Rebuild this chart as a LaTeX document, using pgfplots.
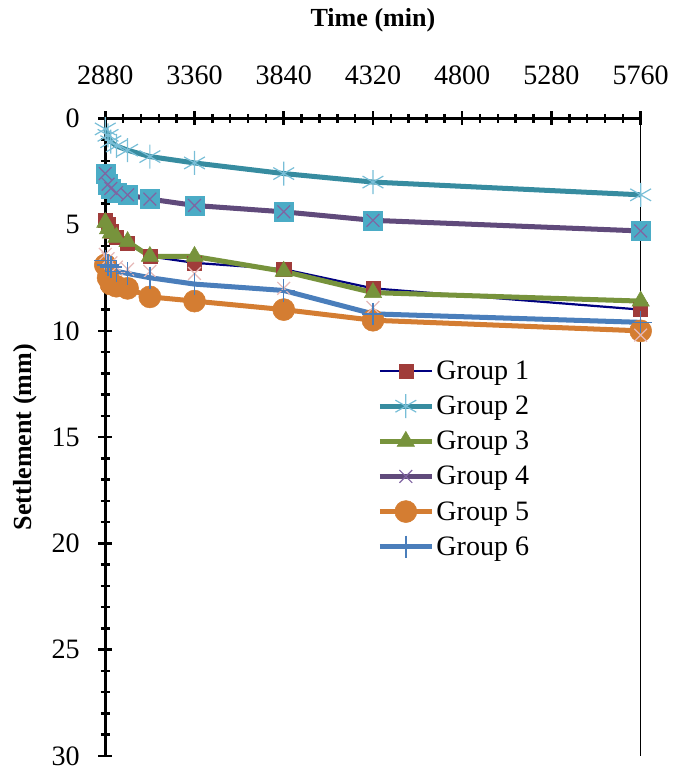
\documentclass[border=0pt]{standalone}
\usepackage{pgfplots}
\usepackage{pgfplotstable}
\pgfplotsset{compat=1.18}
\usepackage{fontspec}
\setmainfont{Liberation Serif}
\definecolor{g1line}{RGB}{0,0,128}
\definecolor{g1mark}{RGB}{160,60,58}
\definecolor{g2line}{RGB}{55,140,160}
\definecolor{g2mark}{RGB}{120,190,215}
\definecolor{g3}{RGB}{119,147,60}
\definecolor{g4line}{RGB}{96,74,123}
\definecolor{g4mark}{RGB}{128,100,162}
\definecolor{g5}{RGB}{212,125,50}
\definecolor{g6}{RGB}{74,126,187}
\definecolor{cyansq}{RGB}{75,172,198}
\definecolor{pinkx}{RGB}{230,185,184}
\pgfplotstableread{
t G1 G2 G3 G4 G5 G6 P
2880 4.8 0.5 4.9 2.6 6.9 6.7 6.4
2895 5.0 0.8 5.2 3.1 7.5 6.9 6.6
2910 5.3 1.1 5.4 3.3 7.8 7.0 6.8
2940 5.6 1.3 5.6 3.5 7.9 7.2 7.0
3000 5.9 1.5 5.8 3.6 8.0 7.3 7.1
3120 6.5 1.8 6.5 3.8 8.4 7.5 7.2
3360 6.8 2.1 6.5 4.1 8.6 7.8 7.3
3840 7.1 2.6 7.2 4.4 9.0 8.1 8.0
4320 8.0 3.0 8.2 4.8 9.5 9.2 8.9
5760 9.0 3.6 8.6 5.3 10.0 9.6 10.2
}\data
\begin{document}
\begin{tikzpicture}
\begin{axis}[
  name=ax,
  scale only axis, width=534pt, height=636pt,
  xmin=2880, xmax=5760, ymin=0, ymax=30, y dir=reverse,
  axis x line=top, axis y line=left,
  axis line style={line width=3.5pt, -},
  xtick={2880,3360,...,5760}, ytick={0,5,...,30},
  minor x tick num=4, minor y tick num=4,
  tick align=center,
  major tick length=14pt, minor tick length=9pt,
  tick style={line width=2.5pt, black},
  /pgf/number format/1000 sep={},
  /pgf/number format/assume math mode=true,
  tick label style={font=\fontsize{28}{32}\selectfont},
  xticklabel shift=23pt, yticklabel shift=15pt,
  xlabel={Time (min)}, ylabel={Settlement (mm)},
  label style={font=\bfseries\fontsize{26}{30}\selectfont},
  xlabel style={yshift=27pt},
  ylabel style={yshift=8pt},
  clip=false,
  legend cell align=left,
  legend style={at={(rel axis cs:0.502,0.626)}, anchor=north west, draw=none, fill=none,
    font=\fontsize{28}{32}\selectfont, row sep=11pt},
  legend image code/.code={\draw[mark repeat=2,mark phase=2] plot coordinates {(0pt,0pt) (26pt,0pt) (52pt,0pt)};},
]
\addplot[g1line, line width=2.2pt, mark=square*, mark size=7pt, mark options={fill=g1mark, draw=g1mark, line width=0.5pt}] table[x=t,y=G1]{\data};
\addlegendentry{Group 1}
\addplot[g2line, line width=5pt, mark=asterisk, mark size=12pt, mark options={draw=g2mark, line width=1.2pt}] table[x=t,y=G2]{\data};
\addlegendentry{Group 2}
\addplot[g3, line width=5pt, mark=triangle*, mark size=10pt, mark options={fill=g3, draw=g3, line width=0.5pt}] table[x=t,y=G3]{\data};
\addlegendentry{Group 3}
\addplot[only marks, mark=square*, mark size=9.5pt, mark options={fill=cyansq, draw=cyansq}, forget plot] table[x=t,y=G4]{\data};
\addplot[g4line, line width=5pt, mark=x, mark size=9pt, mark options={draw=g4mark, line width=1.2pt}] table[x=t,y=G4]{\data};
\addlegendentry{Group 4}
\addplot[g5, line width=5pt, mark=*, mark size=11pt, mark options={fill=g5, draw=g5, line width=0.5pt}] table[x=t,y=G5]{\data};
\addlegendentry{Group 5}
\addplot[only marks, mark=x, mark size=9pt, mark options={draw=pinkx, line width=1.2pt}, forget plot] table[x=t,y=P]{\data};
\addplot[g6, line width=5pt, mark=+, mark size=11pt, mark options={draw=g6, line width=1.5pt}] table[x=t,y=G6]{\data};
\addlegendentry{Group 6}
\draw[line width=1pt, black] (rel axis cs:1,0) -- (rel axis cs:1,1);
\end{axis}
\path (ax.south west) ++(-105pt,-15pt) coordinate (bbA);
\path (ax.north east) ++(31pt,118pt) coordinate (bbB);
\path (bbA) rectangle (bbB);
\end{tikzpicture}
\end{document}
